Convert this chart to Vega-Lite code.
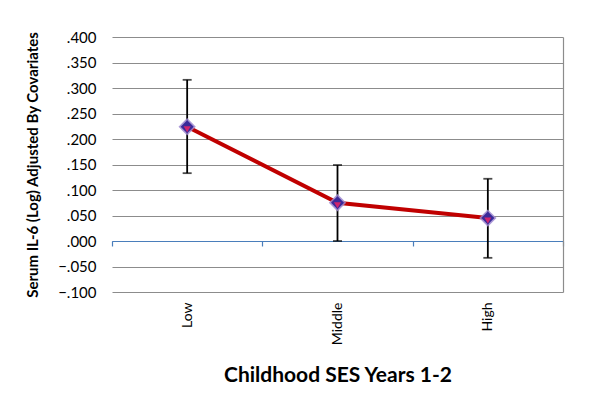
{
  "$schema": "https://vega.github.io/schema/vega-lite/v6.json",
  "width": 451,
  "height": 255,
  "autosize": "none",
  "padding": {"left": 112, "top": 37, "right": 39, "bottom": 123},
  "background": "white",
  "config": {
    "font": "Lato",
    "view": {"stroke": null}
  },
  "data": {
    "values": [
      {"ses": "Low", "mean": 0.224, "lo": 0.133, "hi": 0.316},
      {"ses": "Middle", "mean": 0.075, "lo": 0.0, "hi": 0.149},
      {"ses": "High", "mean": 0.045, "lo": -0.033, "hi": 0.122}
    ]
  },
  "encoding": {
    "x": {
      "field": "ses",
      "type": "nominal",
      "sort": ["Low", "Middle", "High"],
      "scale": {"paddingInner": 0, "paddingOuter": 0},
      "axis": {
        "orient": "bottom",
        "offset": -51,
        "title": "Childhood SES Years 1-2",
        "titleFont": "Lato",
        "titleFontSize": 21,
        "titleFontWeight": "bold",
        "titleColor": "black",
        "titlePadding": 20,
        "labelAngle": -90,
        "labelFont": "Lato",
        "labelFontSize": 14,
        "labelColor": "black",
        "labelPadding": 56,
        "tickBand": "extent",
        "tickColor": "#4A7EBB",
        "tickSize": 5,
        "tickWidth": 1.2,
        "domainColor": "#4A7EBB",
        "domainWidth": 1.2,
        "grid": false
      }
    }
  },
  "layer": [
    {
      "mark": {"type": "line", "color": "#C00000", "strokeWidth": 4},
      "encoding": {
        "y": {
          "field": "mean",
          "type": "quantitative",
          "scale": {"domain": [-0.1, 0.4], "nice": false, "zero": false},
          "axis": {
            "orient": "left",
            "title": "Serum IL-6 (Log) Adjusted By Covariates",
            "titleFont": "Lato",
            "titleFontSize": 15,
            "titleFontWeight": "bold",
            "titleColor": "black",
            "titlePadding": 17,
            "values": [-0.1, -0.05, 0, 0.05, 0.1, 0.15, 0.2, 0.25, 0.3, 0.35, 0.4],
            "labelExpr": "replace(format(datum.value, '.3f'), '0.', '.')",
            "labelFont": "Lato",
            "labelFontSize": 15,
            "labelColor": "black",
            "labelPadding": 16,
            "ticks": false,
            "domain": false,
            "grid": true,
            "gridColor": {"condition": {"test": "datum.value === 0", "value": "#4A7EBB"}, "value": "#8C8C8C"},
            "gridWidth": 1.2
          }
        }
      }
    },
    {
      "mark": {"type": "rule", "color": "black", "strokeWidth": 1.8},
      "encoding": {
        "y": {"field": "lo", "type": "quantitative", "axis": null},
        "y2": {"field": "hi"}
      }
    },
    {
      "mark": {"type": "tick", "color": "black", "size": 9, "thickness": 1.8},
      "encoding": {"y": {"field": "hi", "type": "quantitative", "axis": null}}
    },
    {
      "mark": {"type": "tick", "color": "black", "size": 9, "thickness": 1.8},
      "encoding": {"y": {"field": "lo", "type": "quantitative", "axis": null}}
    },
    {
      "mark": {"type": "point", "shape": "diamond", "filled": true, "size": 300, "color": "#9C86CF", "opacity": 0.85},
      "encoding": {"y": {"field": "mean", "type": "quantitative", "axis": null}}
    },
    {
      "mark": {"type": "point", "shape": "diamond", "filled": true, "size": 170, "color": "#3A2A9A", "opacity": 1},
      "encoding": {"y": {"field": "mean", "type": "quantitative", "axis": null}}
    },
    {
      "mark": {"type": "point", "shape": "triangle-down", "filled": true, "size": 50, "color": "#D8246A", "opacity": 0.95, "yOffset": 2.5},
      "encoding": {"y": {"field": "mean", "type": "quantitative", "axis": null}}
    },
    {
      "mark": {"type": "rule", "opacity": 0},
      "encoding": {
        "y": {
          "field": "mean",
          "type": "quantitative",
          "axis": {
            "orient": "right",
            "title": null,
            "labels": false,
            "ticks": false,
            "grid": false,
            "domain": true,
            "domainColor": "#8C8C8C",
            "domainWidth": 1.2
          }
        }
      }
    }
  ],
  "resolve": {"axis": {"y": "independent"}}
}
